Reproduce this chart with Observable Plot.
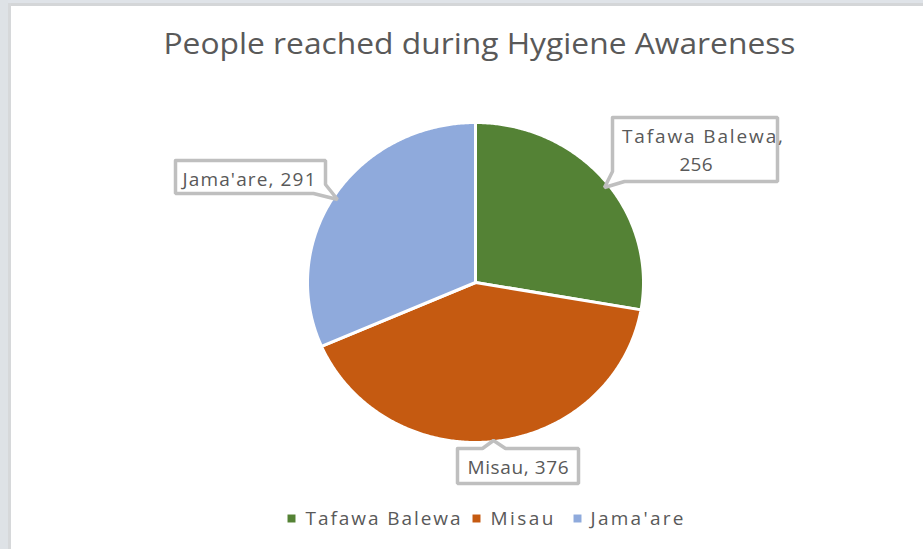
<!DOCTYPE html>
<html>
<head>
<meta charset="utf-8">
<script src="https://cdn.jsdelivr.net/npm/d3@7"></script>
<script src="https://cdn.jsdelivr.net/npm/@observablehq/plot@0.6"></script>
<style>
  html, body { margin: 0; padding: 0; background: #ffffff; }
  #wrap { position: relative; width: 923px; height: 549px; overflow: hidden; background: #ffffff; }
  #frameTop { position: absolute; left: 0; top: 0; width: 923px; height: 3px; background: #dfe3e8; }
  #frameTop2 { position: absolute; left: 8px; top: 3px; width: 915px; height: 3px; background: #d4d6d8; }
  #frameLeft { position: absolute; left: 0; top: 0; width: 8px; height: 549px; background: #dee2e6; }
  #frameLeft2 { position: absolute; left: 8px; top: 3px; width: 3px; height: 546px; background: #d6d8da; }
  #chart { position: absolute; left: 0; top: 0; }
</style>
</head>
<body>
<div id="wrap">
  <div id="frameTop"></div>
  <div id="frameLeft"></div>
  <div id="frameTop2"></div>
  <div id="frameLeft2"></div>
  <div id="chart"></div>
</div>
<script>
// ---- data ----
const categories = ["Tafawa Balewa", "Misau", "Jama'are"];
const values = [256, 376, 291];
const colors = ["#548235", "#C55A11", "#8FAADC"];
const titleText = "People reached during Hygiene Awareness";

// ---- layout ----
const W = 923, H = 549;
const cx = 475, cy = 282, rx = 168, ry = 160;
const textColor = "#595959";
const font = "'Open Sans', 'Liberation Sans', sans-serif";

const pie = d3.pie().sort(null).value(d => d.value)(categories.map((c, i) => ({name: c, value: values[i]})));

const slicePts = [];
pie.forEach(s => {
  const n = Math.max(2, Math.ceil((s.endAngle - s.startAngle) / (Math.PI / 360)));
  slicePts.push({name: s.data.name, x: cx, y: cy});
  for (let k = 0; k <= n; k++) {
    const a = s.startAngle + (s.endAngle - s.startAngle) * k / n;
    slicePts.push({name: s.data.name, x: cx + rx * Math.sin(a), y: cy - ry * Math.cos(a)});
  }
  slicePts.push({name: s.data.name, x: cx, y: cy});
});

// callout boxes (annotation layout)
const callouts = [
  {id: "t", pts: [[612,117],[777,117],[777,181],[624,181],[604,187],[612,171],[612,117]]},
  {id: "m", pts: [[457,448],[482,448],[493,440],[505,448],[578,448],[578,483],[457,483],[457,448]]},
  {id: "j", pts: [[175,160],[325,160],[325,184],[337,199],[313,193],[175,193],[175,160]]}
];
const calloutPts = callouts.flatMap(c => c.pts.map(p => ({id: c.id, x: p[0], y: p[1]})));

const calloutLabels = [
  {text: categories[0] + ",", x: 702, y: 136.5, w: 161},
  {text: String(values[0]), x: 695.5, y: 164, w: 33},
  {text: categories[1] + ", " + values[1], x: 517.5, y: 467.5, w: 101},
  {text: categories[2] + ", " + values[2], x: 248.5, y: 179.5, w: 133}
];

const legendItems = [
  {name: categories[0], sx: 291, tx: 305, w: 155},
  {name: categories[1], sx: 476, tx: 490, w: 63},
  {name: categories[2], sx: 577, tx: 590, w: 93}
];
const legendY = 518;

const widths = new Map();
calloutLabels.forEach(d => widths.set(d.text, d.w));
legendItems.forEach(d => widths.set(d.name, d.w));
widths.set(titleText, 632);

const chart = Plot.plot({
  width: W, height: H,
  margin: 0,
  style: {background: "transparent", fontFamily: font, overflow: "visible"},
  x: {domain: [0, W], range: [0, W], axis: null},
  y: {domain: [0, H], range: [0, H], axis: null},
  color: {domain: categories, range: colors},
  marks: [
    Plot.text([titleText], {x: () => 479, y: () => 44, text: d => d, fontSize: 30, fill: textColor, textAnchor: "middle"}),
    Plot.line(slicePts, {x: "x", y: "y", z: "name", fill: "name", stroke: "white", strokeWidth: 3, strokeLinejoin: "round"}),
    Plot.line(calloutPts, {x: "x", y: "y", z: "id", fill: "white", stroke: "#BFBFBF", strokeWidth: 3.5, strokeLinejoin: "miter"}),
    Plot.text(calloutLabels, {x: "x", y: "y", text: "text", fontSize: 19, fill: textColor, textAnchor: "middle"}),
    Plot.dot(legendItems, {x: "sx", y: () => legendY, symbol: "square", r: 4.5, fill: "name", stroke: null}),
    Plot.text(legendItems, {x: "tx", y: () => legendY, text: "name", fontSize: 19, fill: textColor, textAnchor: "start"})
  ]
});

chart.querySelectorAll("text").forEach(t => {
  const w = widths.get(t.textContent);
  if (w) {
    t.setAttribute("textLength", w);
    t.setAttribute("lengthAdjust", t.textContent === titleText ? "spacingAndGlyphs" : "spacing");
  }
});

document.getElementById("chart").appendChild(chart);
</script>
</body>
</html>
